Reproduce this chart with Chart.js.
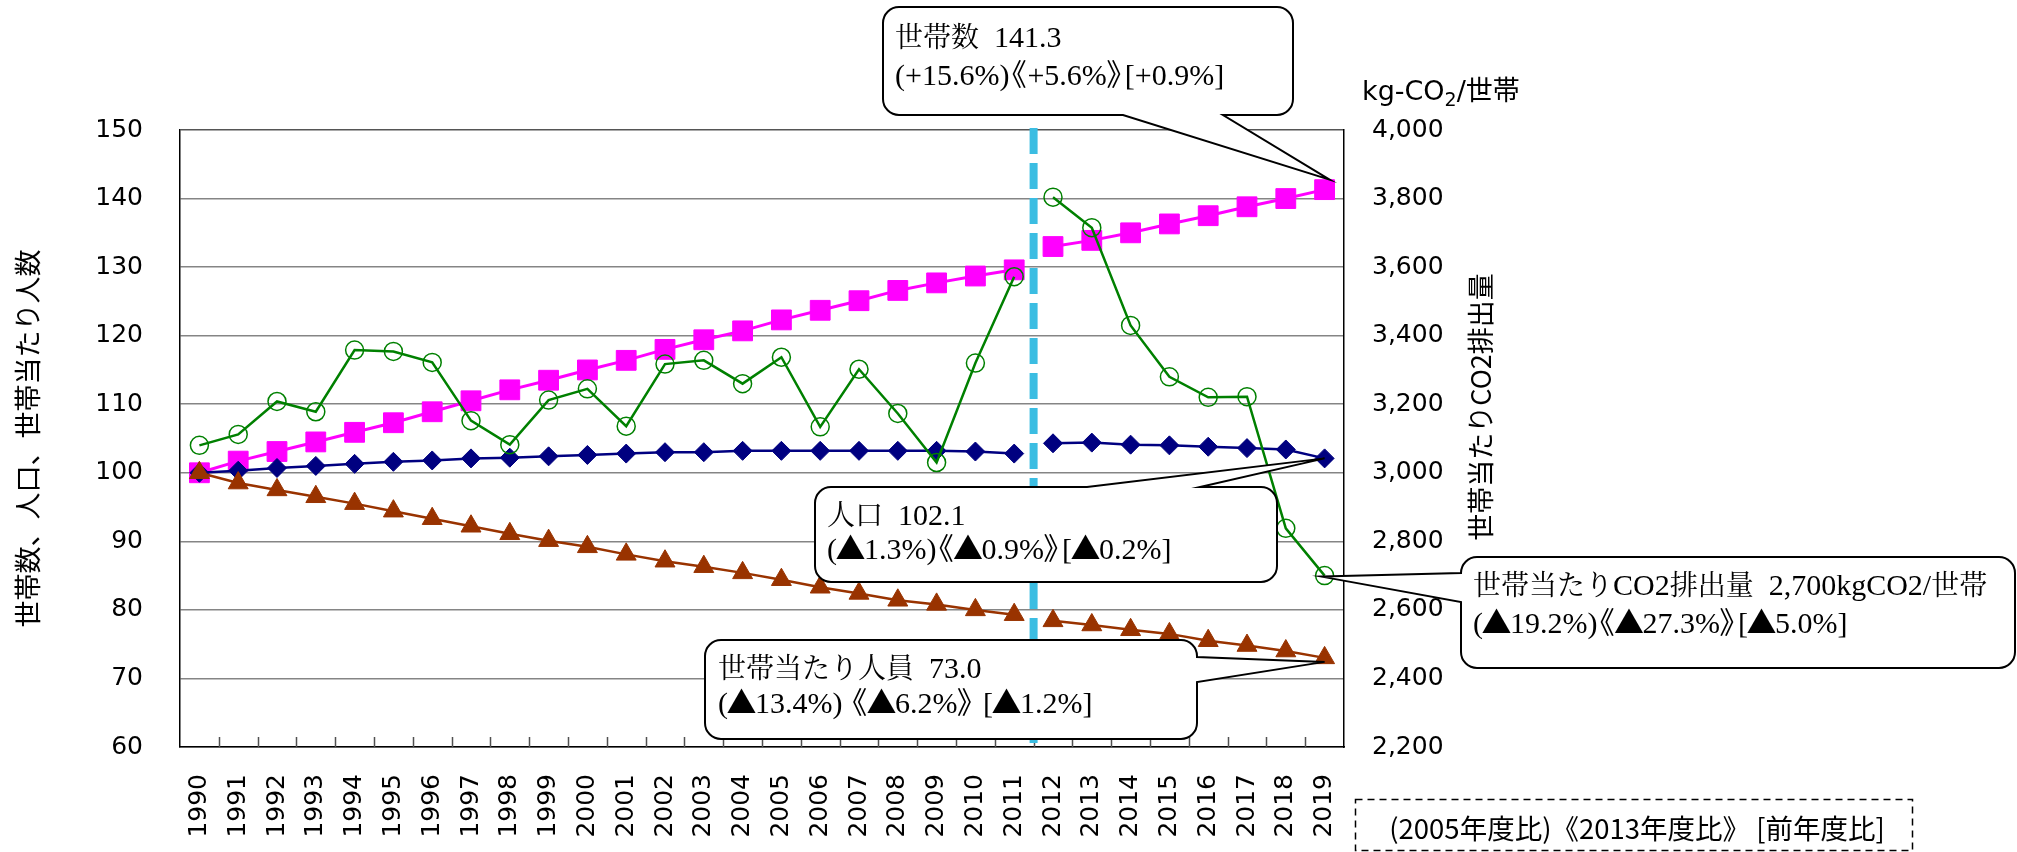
<!DOCTYPE html>
<html lang="ja">
<head>
<meta charset="utf-8">
<title>世帯数・人口・世帯当たり人員と世帯当たりCO2排出量の推移</title>
<script src="https://cdn.jsdelivr.net/npm/chart.js@4.4.0/dist/chart.umd.min.js"></script>
<style>
  html, body { margin: 0; padding: 0; background: #fff; }
  #wrap { position: relative; width: 2017px; height: 852px; }
  canvas { display: block; }
</style>
</head>
<body>
<div id="wrap"><canvas id="chart" width="2017" height="852"></canvas></div>
<script>
// 年度
const years = ['1990', '1991', '1992', '1993', '1994', '1995', '1996', '1997', '1998', '1999',
               '2000', '2001', '2002', '2003', '2004', '2005', '2006', '2007', '2008', '2009',
               '2010', '2011', '2012', '2013', '2014', '2015', '2016', '2017', '2018', '2019'];

// 指数（1990年度 = 100）
const householdIndex = [100.0, 101.7, 103.1, 104.5, 105.9, 107.3, 108.9, 110.5, 112.1, 113.5,
                        115.0, 116.4, 118.0, 119.4, 120.7, 122.3, 123.7, 125.1, 126.6, 127.7,
                        128.7, 129.6, 133.0, 133.9, 135.0, 136.3, 137.5, 138.8, 140.0, 141.3];
const populationIndex = [100.0, 100.3, 100.7, 101.0, 101.3, 101.6, 101.8, 102.1, 102.2, 102.4,
                         102.6, 102.8, 103.0, 103.0, 103.2, 103.2, 103.2, 103.2, 103.2, 103.2,
                         103.1, 102.8, 104.3, 104.4, 104.1, 104.0, 103.8, 103.6, 103.4, 102.1];
const personsPerHouseholdIndex = [100.0, 98.5, 97.5, 96.5, 95.5, 94.4, 93.3, 92.2, 91.1, 90.1,
                                  89.2, 88.1, 87.1, 86.3, 85.4, 84.4, 83.3, 82.4, 81.4, 80.8,
                                  80.0, 79.3, 78.4, 77.8, 77.1, 76.5, 75.5, 74.8, 74.0, 73.0];

// 世帯当たりCO2排出量（kg-CO2/世帯）
const co2PerHousehold = [3080, 3112, 3208, 3178, 3358, 3354, 3322, 3152, 3082, 3212,
                         3245, 3136, 3317, 3328, 3260, 3337, 3134, 3302, 3173, 3030,
                         3320, 3572, 3804, 3715, 3430, 3280, 3220, 3222, 2838, 2700];

// 軸の目盛
const leftTicks = { min: 60, max: 150, step: 10 };
const rightTicks = { min: 2200, max: 4000, step: 200 };

// 2011年度と2012年度の間で統計が接続されないため、線を切る
const breakAfterYear = '2011';

// 吹き出しの比率表記 (2005年度比)《2013年度比》[前年度比]
const householdRates = '(+15.6%)《+5.6%》[+0.9%]';
const populationRates = '(▲1.3%)《▲0.9%》[▲0.2%]';
const personsRates = '(▲13.4%) 《▲6.2%》 [▲1.2%]';
const co2Rates = '(▲19.2%)《▲27.3%》[▲5.0%]';
const rateLegend = '(2005年度比)《2013年度比》 [前年度比]';

// ---- styles ----
const GREEN = '#008000', BROWN = '#993300', NAVY = '#000080', MAGENTA = '#FF00FF';
const BREAK_COLOR = '#3BBDE2';
const TICK_FONT = "'DejaVu Sans', 'Noto Sans CJK JP', sans-serif";
const JP_SANS = "'Noto Sans CJK JP', sans-serif";
const NOTE_LATIN = "'Liberation Serif', serif";
const NOTE_CJK = "'Noto Serif CJK JP', 'Noto Sans CJK JP', serif";
const NOTE_SIZE = 30;      // Latin part of the notes
const NOTE_CJK_SIZE = 28;  // kanji / kana part of the notes

const last = years.length - 1;
const breakIndex = years.indexOf(breakAfterYear);
const splitAtBreak = color => ({
  borderColor: c => (c.p0DataIndex === breakIndex ? 'rgba(0,0,0,0)' : color)
});

// dataset order in the chart: 0 CO2, 1 persons, 2 population, 3 households
const callouts = [
  {
    dataset: 3,
    lines: ['世帯数  ' + householdIndex[last].toFixed(1), householdRates],
    box: [883, 7, 1293, 115], textX: 895, baselines: [47, 85],
    wedge: { side: 'bottom', a: 1223, b: 1123 }, tipShift: [5, -10]
  },
  {
    dataset: 2,
    lines: ['人口  ' + populationIndex[last].toFixed(1), populationRates],
    box: [815, 487, 1277, 582], textX: 827, baselines: [525, 559],
    wedge: { side: 'top', a: 1087, b: 1200 }, tipShift: [0, 0]
  },
  {
    dataset: 1,
    lines: ['世帯当たり人員  ' + personsPerHouseholdIndex[last].toFixed(1), personsRates],
    box: [705, 640, 1197, 739], textX: 718, baselines: [678, 713],
    wedge: { side: 'right', a: 657, b: 682 }, tipShift: [0, 4]
  },
  {
    dataset: 0,
    lines: ['世帯当たりCO2排出量  ' + co2PerHousehold[last].toLocaleString('en-US') + 'kgCO2/世帯', co2Rates],
    box: [1461, 557, 2015, 668], textX: 1473, baselines: [595, 633],
    wedge: { side: 'left', a: 602, b: 573 }, tipShift: [-3, 1]
  }
];

function calloutPath(c, box, r, w, tip) {
  const [x0, y0, x1, y1] = box;
  c.beginPath();
  c.moveTo(x0 + r, y0);
  if (w.side === 'top') { c.lineTo(w.a, y0); c.lineTo(tip.x, tip.y); c.lineTo(w.b, y0); }
  c.lineTo(x1 - r, y0);
  c.arcTo(x1, y0, x1, y0 + r, r);
  if (w.side === 'right') { c.lineTo(x1, w.a); c.lineTo(tip.x, tip.y); c.lineTo(x1, w.b); }
  c.lineTo(x1, y1 - r);
  c.arcTo(x1, y1, x1 - r, y1, r);
  if (w.side === 'bottom') { c.lineTo(w.a, y1); c.lineTo(tip.x, tip.y); c.lineTo(w.b, y1); }
  c.lineTo(x0 + r, y1);
  c.arcTo(x0, y1, x0, y1 - r, r);
  if (w.side === 'left') { c.lineTo(x0, w.a); c.lineTo(tip.x, tip.y); c.lineTo(x0, w.b); }
  c.lineTo(x0, y0 + r);
  c.arcTo(x0, y0, x0 + r, y0, r);
  c.closePath();
}

// Note text: Latin in a serif face, kana/kanji from the CJK face;
// ▲ and the double angle brackets are set tight (brackets half-width).
function drawNoteLine(c, text, x, y) {
  const s = NOTE_SIZE;
  for (const ch of text) {
    if (ch === '▲') {
      c.font = `${s}px ${JP_SANS}`;
      c.fillText(ch, x - s * 0.05, y);
      x += s * 0.9;
    } else if (ch === '《') {
      c.font = `${s}px ${JP_SANS}`;
      c.fillText(ch, x - s * 0.42, y);
      x += s * 0.6;
    } else if (ch === '》') {
      c.font = `${s}px ${JP_SANS}`;
      c.fillText(ch, x - s * 0.02, y);
      x += s * 0.6;
    } else if (ch.codePointAt(0) >= 0x2e80) {
      c.font = `${NOTE_CJK_SIZE}px ${NOTE_CJK}`;
      c.fillText(ch, x, y);
      x += c.measureText(ch).width;
    } else {
      c.font = `${s}px ${NOTE_LATIN}`;
      c.fillText(ch, x, y);
      x += c.measureText(ch).width;
    }
  }
}

const overlay = {
  id: 'overlay',
  beforeDraw(chart) {
    const c = chart.ctx;
    c.save();
    c.fillStyle = '#fff';
    c.fillRect(0, 0, chart.width, chart.height);
    c.restore();
  },
  beforeDatasetsDraw(chart) {
    const { ctx: c, chartArea: a, scales: { x } } = chart;
    const band = x.getPixelForValue(1) - x.getPixelForValue(0);
    c.save();
    // short tick marks on the inside of the category axis, at band boundaries
    c.strokeStyle = '#505050';
    c.lineWidth = 1.5;
    c.beginPath();
    for (let i = 1; i < years.length; i++) {
      const px = Math.round(x.getPixelForValue(i) - band / 2) + 0.5;
      c.moveTo(px, a.bottom);
      c.lineTo(px, a.bottom - 10);
    }
    c.stroke();
    // dashed separator between 2011 and 2012
    const bx = (x.getPixelForValue(breakIndex) + x.getPixelForValue(breakIndex + 1)) / 2;
    c.strokeStyle = BREAK_COLOR;
    c.lineWidth = 8;
    c.setLineDash([26, 9]);
    c.beginPath();
    c.moveTo(bx, a.top - 2);
    c.lineTo(bx, a.bottom - 4);
    c.stroke();
    c.restore();
  },
  afterDatasetsDraw(chart) {
    const c = chart.ctx;
    c.save();
    for (const k of callouts) {
      const pt = chart.getDatasetMeta(k.dataset).data[last];
      const tip = { x: pt.x + k.tipShift[0], y: pt.y + k.tipShift[1] };
      calloutPath(c, k.box, 16, k.wedge, tip);
      c.fillStyle = '#fff';
      c.fill();
      c.lineWidth = 2;
      c.strokeStyle = '#000';
      c.lineJoin = 'miter';
      c.stroke();
      c.fillStyle = '#000';
      c.textAlign = 'left';
      c.textBaseline = 'alphabetic';
      k.lines.forEach((t, i) => drawNoteLine(c, t, k.textX, k.baselines[i]));
    }
    c.restore();
  },
  afterDraw(chart) {
    const c = chart.ctx;
    c.save();
    c.fillStyle = '#000';
    // right axis title, reading bottom to top
    c.save();
    c.translate(1481, 407);
    c.rotate(-Math.PI / 2);
    c.font = `27px ${JP_SANS}`;
    c.textAlign = 'center';
    c.textBaseline = 'middle';
    c.fillText('世帯当たりCO2排出量', 0, 0);
    c.restore();
    // unit label above the right axis: kg-CO₂/世帯
    c.textAlign = 'left';
    c.textBaseline = 'alphabetic';
    let tx = 1362;
    const ty = 100;
    c.font = `27px ${TICK_FONT}`;
    c.fillText('kg-CO', tx, ty);
    tx += c.measureText('kg-CO').width;
    c.font = `19px ${TICK_FONT}`;
    c.fillText('2', tx, ty + 6);
    tx += c.measureText('2').width;
    c.font = `27px ${TICK_FONT}`;
    c.fillText('/世帯', tx, ty);
    // legend for the ratio brackets
    c.strokeStyle = '#000';
    c.lineWidth = 1.5;
    c.setLineDash([7, 5]);
    c.strokeRect(1355.5, 799.5, 557, 51);
    c.setLineDash([]);
    c.font = `27.5px ${JP_SANS}`;
    c.textAlign = 'center';
    c.textBaseline = 'middle';
    c.fillText(rateLegend, 1637, 829);
    c.restore();
  }
};

const tickFont = { family: TICK_FONT, size: 25 };

new Chart(document.getElementById('chart'), {
  type: 'line',
  data: {
    labels: years,
    datasets: [
      {
        label: '世帯当たりCO2排出量', data: co2PerHousehold, yAxisID: 'y2', order: 1,
        borderColor: GREEN, borderWidth: 2.5, tension: 0, segment: splitAtBreak(GREEN),
        pointStyle: 'circle', pointRadius: 9, pointBorderWidth: 1.5,
        pointBorderColor: GREEN, pointBackgroundColor: 'rgba(0,0,0,0)'
      },
      {
        label: '世帯当たり人員', data: personsPerHouseholdIndex, yAxisID: 'y', order: 2,
        borderColor: BROWN, borderWidth: 2.5, tension: 0, segment: splitAtBreak(BROWN),
        pointStyle: 'triangle', pointRadius: 11.5, pointBorderWidth: 1,
        pointBorderColor: BROWN, pointBackgroundColor: BROWN
      },
      {
        label: '人口', data: populationIndex, yAxisID: 'y', order: 3,
        borderColor: NAVY, borderWidth: 2.5, tension: 0, segment: splitAtBreak(NAVY),
        pointStyle: 'rectRot', pointRadius: 9.5, pointBorderWidth: 1,
        pointBorderColor: NAVY, pointBackgroundColor: NAVY
      },
      {
        label: '世帯数', data: householdIndex, yAxisID: 'y', order: 4,
        borderColor: MAGENTA, borderWidth: 3, tension: 0, segment: splitAtBreak(MAGENTA),
        pointStyle: 'rect', pointRadius: 14, pointBorderWidth: 1,
        pointBorderColor: MAGENTA, pointBackgroundColor: MAGENTA
      }
    ]
  },
  options: {
    responsive: false,
    animation: false,
    events: [],
    layout: { padding: { top: 130, left: 0, right: 0, bottom: 0 } },
    plugins: { legend: { display: false }, tooltip: { enabled: false } },
    scales: {
      x: {
        type: 'category',
        offset: true,
        grid: { display: false },
        border: { display: true, color: '#000', width: 1.5 },
        ticks: { font: tickFont, color: '#000', minRotation: 90, maxRotation: 90, autoSkip: false, padding: 19 },
        afterFit: s => { s.height = 105; }
      },
      y: {
        position: 'left',
        min: leftTicks.min, max: leftTicks.max,
        ticks: { stepSize: leftTicks.step, font: tickFont, color: '#000', padding: 37 },
        grid: { color: c => (c.tick.value === leftTicks.max ? '#555' : '#858585'), lineWidth: 1.5, drawTicks: false },
        border: { color: '#000', width: 1.5 },
        title: {
          display: true, text: '世帯数、人口、世帯当たり人数', color: '#000',
          font: { family: JP_SANS, size: 27 }, padding: { top: 12, bottom: 0 }
        },
        afterFit: s => { s.width = 180; }
      },
      y2: {
        position: 'right',
        min: rightTicks.min, max: rightTicks.max,
        ticks: {
          stepSize: rightTicks.step, font: tickFont, color: '#000', padding: 28,
          callback: v => Number(v).toLocaleString('en-US')
        },
        grid: { drawOnChartArea: false, drawTicks: false },
        border: { color: '#000', width: 1.5 },
        afterFit: s => { s.width = 673; }
      }
    }
  },
  plugins: [overlay]
});
</script>
</body>
</html>
